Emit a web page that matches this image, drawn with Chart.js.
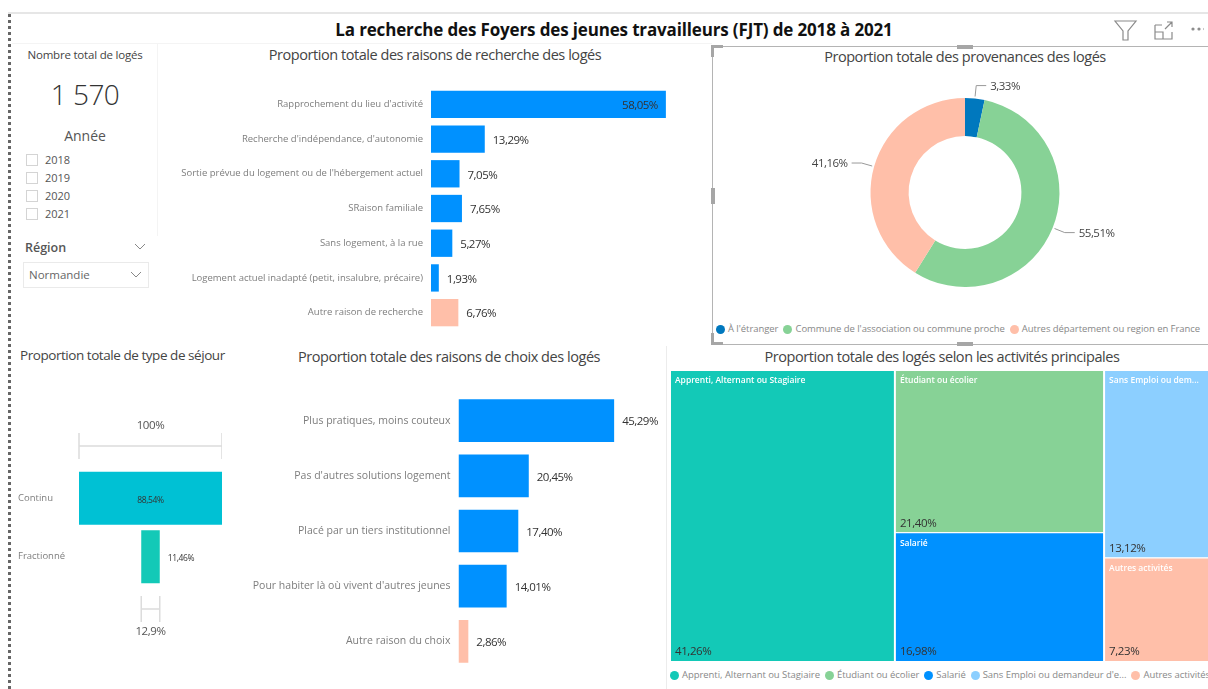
<!DOCTYPE html>
<html lang="fr">
<head>
<meta charset="utf-8">
<title>Foyers des jeunes travailleurs</title>
<script src="https://cdn.jsdelivr.net/npm/chart.js@4"></script>
<style>
    html, body { margin: 0; padding: 0; background: #fff; }
    body { position: relative; width: 1208px; height: 689px; overflow: hidden; font-family: "Open Sans", sans-serif; color: #444; filter: blur(0.4px); }
    .abs { position: absolute; white-space: nowrap; }
    .mid { transform: translateX(-50%); }
    .visual-title { font-size: 14.5px; letter-spacing: -0.45px; color: #444; line-height: 20px; }
    canvas { position: absolute; }
    .legend { position: absolute; display: flex; white-space: nowrap; font-size: 9.5px; letter-spacing: -0.05px; color: #888; line-height: 12px; }
    .legend span { display: inline-flex; align-items: center; }
    .legend i { width: 9px; height: 9px; border-radius: 50%; margin-right: 3px; display: inline-block; }
    .box { position: absolute; background: #fff; }
    .handle { position: absolute; background: #a6a6a6; }
</style>
</head>
<body>

<!-- page furniture -->
<div class="box" style="left:8px;top:12px;width:1200px;height:2px;background:#e6e6e6"></div>
<div class="box" style="left:8px;top:14px;width:0;height:675px;border-left:3px dotted #666"></div>
<div class="box" style="left:12px;top:43px;width:700px;height:1px;background:#f4f4f4"></div>
<div class="box" style="left:157px;top:44px;width:1px;height:192px;background:#f4f4f4"></div>
<div class="box" style="left:666px;top:346px;width:1px;height:343px;background:#ececec"></div>

<div class="abs mid" style="left:614px;top:18px;font-size:17px;font-weight:700;color:#111;line-height:24px;letter-spacing:-0.15px">La recherche des Foyers des jeunes travailleurs (FJT) de 2018 à 2021</div>

<!-- header icons -->
<svg class="abs" style="left:1112px;top:18px" width="92" height="24" fill="none" stroke="#8a8a8a" stroke-width="1.2">
    <path d="M3 3 H24 L16 13 V22 H11 V13 Z"/>
    <path d="M43 7 H50 M43 7 V21 H60 V14 M43 14 H51 V21 M53 11 L60 4 M55 4 H60 V9"/>
    <circle cx="81" cy="11" r="1" fill="#8a8a8a"/><circle cx="87" cy="11" r="1" fill="#8a8a8a"/><circle cx="93" cy="11" r="1" fill="#8a8a8a"/>
</svg>

<!-- left column : card and slicers -->
<div class="abs mid" style="left:85px;top:47px;font-size:11.5px;letter-spacing:-0.2px;line-height:16px">Nombre total de logés</div>
<div class="abs mid" style="left:85px;top:74px;font-size:28px;font-weight:300;line-height:40px;color:#333;letter-spacing:-0.5px" id="cardValue"></div>
<div class="abs mid" style="left:85px;top:126px;font-size:14px;line-height:20px;color:#555">Année</div>
<div id="years"></div>
<div class="abs" style="left:25px;top:240px;font-size:12.5px;font-weight:600;color:#555;line-height:16px">Région</div>
<svg class="abs" style="left:134px;top:243px" width="12" height="8" fill="none" stroke="#888"><path d="M1 1 L6 6 L11 1"/></svg>
<div class="box" style="left:23px;top:262px;width:124px;height:24px;border:1px solid #eaeaea"></div>
<div class="abs" style="left:29px;top:267px;font-size:11.5px;line-height:16px;color:#666">Normandie</div>
<svg class="abs" style="left:130px;top:271px" width="12" height="8" fill="none" stroke="#888"><path d="M1 1 L6 6 L11 1"/></svg>

<!-- search reasons -->
<div class="abs mid visual-title" style="left:435px;top:45px">Proportion totale des raisons de recherche des logés</div>
<canvas id="searchChart" style="left:160px;top:87px;width:534px;height:243px"></canvas>

<!-- origin doughnut with selection frame -->
<div class="box" style="left:712px;top:46px;width:500px;height:297px;border:1px solid #b4b4b4;background:none"></div>
<div class="handle" style="left:711px;top:45px;width:12px;height:3px"></div>
<div class="handle" style="left:711px;top:45px;width:3px;height:12px"></div>
<div class="handle" style="left:711px;top:342px;width:12px;height:3px"></div>
<div class="handle" style="left:711px;top:333px;width:3px;height:12px"></div>
<div class="handle" style="left:957px;top:45px;width:16px;height:4px"></div>
<div class="handle" style="left:957px;top:342px;width:16px;height:4px"></div>
<div class="handle" style="left:711px;top:188px;width:4px;height:16px"></div>
<div class="abs mid visual-title" style="left:965px;top:47px">Proportion totale des provenances des logés</div>
<canvas id="originChart" style="left:715px;top:68px;width:500px;height:250px"></canvas>
<div class="legend" id="originLegend" style="left:716px;top:323px"></div>

<!-- stay type funnel -->
<div class="abs visual-title" style="left:20px;top:345px;font-size:13.5px">Proportion totale de type de séjour</div>
<canvas id="stayChart" style="left:18px;top:420px;width:204px;height:220px"></canvas>

<!-- choice reasons -->
<div class="abs mid visual-title" style="left:449px;top:347px">Proportion totale des raisons de choix des logés</div>
<canvas id="choiceChart" style="left:180px;top:393px;width:484px;height:276px"></canvas>

<!-- activities treemap -->
<div class="abs mid visual-title" style="left:942px;top:347px">Proportion totale des logés selon les activités principales</div>
<canvas id="activityChart" style="left:670px;top:370px;width:545px;height:291px"></canvas>
<div class="legend" id="activityLegend" style="left:670px;top:669px"></div>

<script>
// Card and slicers
const totalHoused = '1 570';
const yearOptions = ['2018', '2019', '2020', '2021'];

// Search reasons
const searchReasons = [
    'Rapprochement du lieu d\'activité',
    'Recherche d\'indépendance, d\'autonomie',
    'Sortie prévue du logement ou de l\'hébergement actuel',
    'SRaison familiale',
    'Sans logement, à la rue',
    'Logement actuel inadapté (petit, insalubre, précaire)',
    'Autre raison de recherche'
];
const searchValues = [58.05, 13.29, 7.05, 7.65, 5.27, 1.93, 6.76];

// Origins
const originNames = ['À l\'étranger', 'Commune de l\'association ou commune proche', 'Autres département ou region en France'];
const originValues = [3.33, 55.51, 41.16];

// Stay type
const stayTypes = ['Continu', 'Fractionné'];
const stayValues = [88.54, 11.46];
const stayBracketLabels = ['100%', '12,9%'];

// Choice reasons
const choiceReasons = [
    'Plus pratiques, moins couteux',
    'Pas d\'autres solutions logement',
    'Placé par un tiers institutionnel',
    'Pour habiter là où vivent d\'autres jeunes',
    'Autre raison du choix'
];
const choiceValues = [45.29, 20.45, 17.40, 14.01, 2.86];

// Activities: treemap column of each activity
const activityNames = ['Apprenti, Alternant ou Stagiaire', 'Étudiant ou écolier', 'Salarié', 'Sans Emploi ou dem...', 'Autres activités'];
const activityLegendNames = ['Apprenti, Alternant ou Stagiaire', 'Étudiant ou écolier', 'Salarié', 'Sans Emploi ou demandeur d\'e...', 'Autres activités'];
const activityValues = [41.26, 21.40, 16.98, 13.12, 7.23];
const activityColumns = [0, 1, 1, 2, 2];

// Colours
const blue = '#0091FF';
const peach = '#FFBFA9';
const green = '#87D296';
const teal = '#13C9B7';
const cyan = '#00C1D4';
const darkBlue = '#0078BE';
const skyBlue = '#8CCFFF';
const textFont = '"Open Sans", sans-serif';

Chart.defaults.animation = false;
Chart.defaults.responsive = false;
Chart.defaults.font.family = textFont;

function percent(v) {
    return v.toFixed(2).replace('.', ',') + '%';
}

// Sizes the canvas from its CSS box
function sizeCanvas(id) {
    const canvas = document.getElementById(id);
    canvas.width = parseInt(canvas.style.width);
    canvas.height = parseInt(canvas.style.height);
    return canvas;
}

function buildLegend(id, names, colors, gap) {
    const legend = document.getElementById(id);
    legend.style.gap = gap + 'px';
    names.forEach((name, i) => {
        const item = document.createElement('span');
        const dot = document.createElement('i');
        dot.style.background = colors[i];
        item.appendChild(dot);
        item.appendChild(document.createTextNode(name));
        legend.appendChild(item);
    });
}

// Value labels next to the horizontal bars; the longest one sits inside its bar
const barValuePlugin = {
    id: 'barValues',
    afterDatasetsDraw(chart) {
        const ctx = chart.ctx;
        const values = chart.data.datasets[0].data;
        ctx.save();
        ctx.font = '11.5px ' + textFont;
        ctx.fillStyle = '#333';
        ctx.letterSpacing = '-0.5px';
        ctx.textBaseline = 'middle';
        chart.getDatasetMeta(0).data.forEach((bar, i) => {
            const inside = values[i] > 50;
            ctx.textAlign = inside ? 'right' : 'left';
            ctx.fillText(percent(values[i]), bar.x + (inside ? -8 : 8), bar.y + 1.5);
        });
        ctx.restore();
    }
};

function createBarChart(id, labels, values, colors, xMax, yWidth, barPct, tickSize) {
    new Chart(sizeCanvas(id), {
        type: 'bar',
        data: {
            labels: labels,
            datasets: [{ data: values, backgroundColor: colors, categoryPercentage: 1, barPercentage: barPct }]
        },
        options: {
            indexAxis: 'y',
            plugins: { legend: { display: false }, tooltip: { enabled: false } },
            scales: {
                x: { display: false, min: 0, max: xMax },
                y: {
                    // keep the plot area exactly on the canvas height
                    afterFit(scale) {
                        scale.width = yWidth;
                        scale.paddingTop = 0;
                        scale.paddingBottom = 0;
                    },
                    grid: { display: false, drawTicks: false },
                    border: { display: false },
                    ticks: { autoSkip: false, padding: 8, color: '#7d7d7d', font: { size: tickSize } }
                }
            }
        },
        plugins: [barValuePlugin]
    });
}

// Leader lines: out of the slice middle, then one horizontal run to the text
const leaderPlugin = {
    id: 'leaders',
    afterDatasetsDraw(chart) {
        const ctx = chart.ctx;
        const values = chart.data.datasets[0].data;
        ctx.save();
        ctx.font = '11.5px ' + textFont;
        ctx.letterSpacing = '-0.5px';
        ctx.textBaseline = 'middle';
        chart.getDatasetMeta(0).data.forEach((arc, i) => {
            const mid = (arc.startAngle + arc.endAngle) / 2;
            const r = arc.outerRadius;
            const side = Math.cos(mid) >= 0 ? 1 : -1;
            const ex = arc.x + Math.cos(mid) * (r + 13);
            const ey = arc.y + Math.sin(mid) * (r + 13);
            ctx.beginPath();
            ctx.moveTo(arc.x + Math.cos(mid) * (r + 2), arc.y + Math.sin(mid) * (r + 2));
            ctx.lineTo(ex, ey);
            ctx.lineTo(ex + side * 10, ey);
            ctx.strokeStyle = '#999';
            ctx.lineWidth = 1;
            ctx.stroke();
            ctx.fillStyle = '#444';
            ctx.textAlign = side > 0 ? 'left' : 'right';
            ctx.fillText(percent(values[i]), ex + side * 14, ey + 1);
        });
        ctx.restore();
    }
};

function createOriginChart() {
    new Chart(sizeCanvas('originChart'), {
        type: 'doughnut',
        data: {
            labels: originNames,
            datasets: [{ data: originValues, backgroundColor: [darkBlue, green, peach], borderWidth: 0 }]
        },
        options: {
            cutout: '59.7%',
            layout: { padding: { top: 30, bottom: 31 } },
            plugins: { legend: { display: false }, tooltip: { enabled: false } }
        },
        plugins: [leaderPlugin]
    });
    buildLegend('originLegend', originNames, [darkBlue, green, peach], 5);
}

// Funnel brackets and labels, placed with the value scale
const funnelPlugin = {
    id: 'funnel',
    afterDatasetsDraw(chart) {
        const ctx = chart.ctx;
        const x = chart.scales.x;
        const area = chart.chartArea;
        const bars = chart.getDatasetMeta(0).data;
        const bracket = (half, y, text, textY) => {
            const l = x.getPixelForValue(-half);
            const r = x.getPixelForValue(half);
            ctx.beginPath();
            ctx.moveTo(l, y - 13);
            ctx.lineTo(l, y + 13);
            ctx.moveTo(l, y);
            ctx.lineTo(r, y);
            ctx.moveTo(r, y - 13);
            ctx.lineTo(r, y + 13);
            ctx.strokeStyle = '#dcdcdc';
            ctx.lineWidth = 1.5;
            ctx.stroke();
            ctx.font = '11.5px ' + textFont;
            ctx.fillStyle = '#555';
            ctx.textAlign = 'center';
            ctx.fillText(text, (l + r) / 2, textY);
        };
        ctx.save();
        ctx.textBaseline = 'middle';
        ctx.letterSpacing = '-0.4px';
        bracket(stayValues[0] / 2, area.top - 23, stayBracketLabels[0], area.top - 43);
        bracket(stayValues[1] / 2, area.bottom + 23, stayBracketLabels[1], area.bottom + 46);
        ctx.font = '8.5px ' + textFont;
        ctx.fillStyle = '#333';
        ctx.textAlign = 'center';
        ctx.fillText(percent(stayValues[0]), x.getPixelForValue(0), bars[0].y + 2);
        ctx.textAlign = 'left';
        ctx.fillText(percent(stayValues[1]), x.getPixelForValue(stayValues[1] / 2) + 8, bars[1].y + 2);
        ctx.restore();
    }
};

function createStayChart() {
    new Chart(sizeCanvas('stayChart'), {
        type: 'bar',
        data: {
            labels: stayTypes,
            datasets: [{
                data: stayValues.map(v => [-v / 2, v / 2]),
                backgroundColor: [cyan, teal],
                categoryPercentage: 1,
                barPercentage: 0.906
            }]
        },
        options: {
            indexAxis: 'y',
            layout: { padding: { top: 49, bottom: 54 } },
            plugins: { legend: { display: false }, tooltip: { enabled: false } },
            scales: {
                x: { display: false, min: -stayValues[0] / 2, max: stayValues[0] / 2 },
                y: {
                    afterFit(scale) { scale.width = 61; },
                    grid: { display: false, drawTicks: false },
                    border: { display: false },
                    ticks: { crossAlign: 'far', padding: 0, color: '#7d7d7d', font: { size: 9.5 } }
                }
            }
        },
        plugins: [funnelPlugin]
    });
}

// Treemap: real bar elements, re-laid out into cells by the two linear scales
const treemapPlugin = {
    id: 'treemap',
    afterDatasetsUpdate(chart) {
        const { x, y } = chart.scales;
        const total = activityValues.reduce((a, b) => a + b, 0);
        const bars = chart.getDatasetMeta(0).data;
        let colStart = 0;
        [0, 1, 2].forEach(col => {
            const members = activityValues.map((v, i) => i).filter(i => activityColumns[i] === col);
            const colSum = members.reduce((a, i) => a + activityValues[i], 0);
            const colEnd = colStart + colSum / total * 100;
            let rowStart = 100;
            members.forEach(i => {
                const rowEnd = rowStart - activityValues[i] / colSum * 100;
                bars[i].x = (x.getPixelForValue(colStart) + x.getPixelForValue(colEnd)) / 2;
                bars[i].width = x.getPixelForValue(colEnd) - x.getPixelForValue(colStart);
                bars[i].y = y.getPixelForValue(rowStart);
                bars[i].base = y.getPixelForValue(rowEnd);
                bars[i].height = bars[i].base - bars[i].y;
                rowStart = rowEnd;
            });
            colStart = colEnd;
        });
    },
    afterDatasetsDraw(chart) {
        const ctx = chart.ctx;
        ctx.save();
        ctx.textAlign = 'left';
        ctx.textBaseline = 'middle';
        chart.getDatasetMeta(0).data.forEach((bar, i) => {
            const left = bar.x - bar.width / 2 + 5;
            ctx.font = '600 8.5px ' + textFont;
            ctx.fillStyle = '#fff';
            ctx.fillText(activityNames[i], left, bar.y + 11);
            ctx.font = '11.5px ' + textFont;
            ctx.letterSpacing = '-0.4px';
            ctx.fillStyle = '#333';
            ctx.fillText(percent(activityValues[i]), left, bar.base - 9);
            ctx.letterSpacing = '0px';
        });
        ctx.restore();
    }
};

function createActivityChart() {
    const colors = [teal, green, blue, skyBlue, peach];
    new Chart(sizeCanvas('activityChart'), {
        type: 'bar',
        data: {
            labels: activityNames,
            datasets: [{ data: activityValues, backgroundColor: colors, borderColor: '#fff', borderWidth: 1 }]
        },
        options: {
            plugins: { legend: { display: false }, tooltip: { enabled: false } },
            scales: {
                x: { type: 'linear', display: false, offset: false, min: 0, max: 100 },
                y: { type: 'linear', display: false, min: 0, max: 100 }
            }
        },
        plugins: [treemapPlugin]
    });
    buildLegend('activityLegend', activityLegendNames, colors, 5);
}

function buildSlicers() {
    document.getElementById('cardValue').textContent = totalHoused;
    const holder = document.getElementById('years');
    yearOptions.forEach((year, i) => {
        const top = 154 + i * 18;
        holder.insertAdjacentHTML('beforeend',
            `<div class="box" style="left:26px;top:${top}px;width:10px;height:10px;border:1px solid #d4d4d4"></div>` +
            `<div class="abs" style="left:45px;top:${top - 2}px;font-size:11px;line-height:16px;color:#555">${year}</div>`);
    });
}

buildSlicers();
createBarChart('searchChart', searchReasons, searchValues, [blue, blue, blue, blue, blue, blue, peach], 65, 271, 0.787, 9.5);
createOriginChart();
createStayChart();
createBarChart('choiceChart', choiceReasons, choiceValues, [blue, blue, blue, blue, peach], 59.8, 278.5, 0.773, 10.5);
createActivityChart();
</script>
</body>
</html>
